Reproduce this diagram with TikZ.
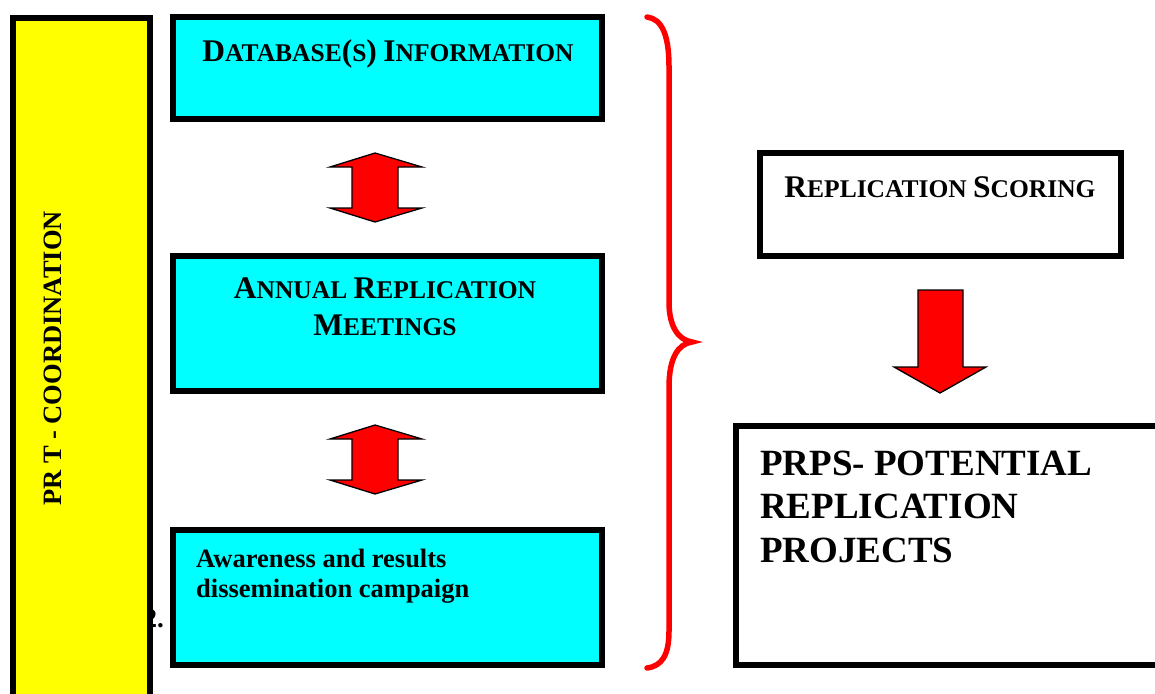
\documentclass[tikz,border=0pt]{standalone}
\usepackage{fontspec}
\setmainfont{Liberation Serif}
\newcommand{\SCw}[2]{{\fontsize{31.5}{37}\selectfont #1}{\fontsize{25.5}{37}\selectfont #2}}
\newcommand{\BigC}[1]{{\fontsize{31.5}{37}\selectfont #1}}
\definecolor{boxcyan}{RGB}{0,255,255}
\definecolor{boxyellow}{RGB}{255,255,0}
\definecolor{arrowred}{RGB}{255,0,0}
\begin{document}
\begin{tikzpicture}[x=1pt,y=-1pt,
  box/.style={draw=black, line width=6pt, inner sep=0pt, outer sep=0pt},
  blockarrow/.style={fill=arrowred, draw=black, line width=1.3pt, line join=miter},
  sctext/.style={font=\fontsize{25.5}{37}\selectfont\bfseries, inner sep=0pt, align=center},
  plaintext/.style={inner sep=0pt, align=left}]
\useasboundingbox (0,0) rectangle (1155,693);
\clip (0,0) rectangle (1155,693);
\fill[white] (0,0) rectangle (1155,693);
% partially hidden label
\node[plaintext, anchor=base east, font=\fontsize{27}{30}\selectfont\bfseries] (two) at (164,627) {2.};
% yellow coordination bar
\node[box, fill=boxyellow, minimum width=137pt, minimum height=699pt] (coord) at (81.5,367.5) {};
\node[inner sep=0pt, rotate=90, font=\fontsize{26.5}{30}\selectfont\bfseries] (coordt) at (52.5,358.5) {PR T - COORDINATION};
% cyan boxes
\node[box, fill=boxcyan, minimum width=429pt, minimum height=102pt] (db) at (387,68) {};
\node[sctext, anchor=base] (dbt) at (388,61) {\SCw{D}{ATABASE}\BigC{(}{\fontsize{25.5}{37}\selectfont S}\BigC{)} \SCw{I}{NFORMATION}};
\node[box, fill=boxcyan, minimum width=429pt, minimum height=135pt] (arm) at (387,323.5) {};
\node[sctext, anchor=base] (armt) at (385,335) {\SCw{A}{NNUAL} \SCw{R}{EPLICATION}\\\SCw{M}{EETINGS}};
\node[box, fill=boxcyan, minimum width=429pt, minimum height=135pt] (aw) at (387,597.5) {};
\node[plaintext, anchor=base west, font=\fontsize{26.5}{30}\selectfont\bfseries] (awt) at (196,597) {Awareness and results\\dissemination campaign};
% double arrows
\draw[blockarrow] (375,153) -- (422,167) -- (398,167) -- (398,208) -- (422,208) -- (375,222) -- (330,208) -- (352,208) -- (352,167) -- (330,167) -- cycle;
\draw[blockarrow] (375,425) -- (422,439) -- (398,439) -- (398,480) -- (422,480) -- (375,494) -- (330,480) -- (352,480) -- (352,439) -- (330,439) -- cycle;
% brace
\draw[arrowred, line width=5.5pt, line cap=round] (647,17) .. controls (662,19) and (669,35) .. (669,67) -- (669,302) .. controls (669,326) and (678,340) .. (692,342) .. controls (678,344) and (669,358) .. (669,387) -- (669,631) .. controls (669,655) and (662,666) .. (647,668);
% right side
\node[box, fill=white, minimum width=361pt, minimum height=103pt] (score) at (940.5,204.5) {};
\node[sctext, anchor=base] (scoret) at (940,197) {\SCw{R}{EPLICATION} \SCw{S}{CORING}};
\draw[blockarrow] (918,290) -- (963,290) -- (963,367) -- (986,367) -- (940,393) -- (894,367) -- (918,367) -- cycle;
\node[box, fill=white, minimum width=431pt, minimum height=239pt] (prps) at (951.5,545.5) {};
\node[plaintext, anchor=base west, font=\fontsize{37}{43.5}\selectfont\bfseries] (prpst) at (760,562) {PRPS- POTENTIAL\\REPLICATION\\PROJECTS};
\end{tikzpicture}
\end{document}
